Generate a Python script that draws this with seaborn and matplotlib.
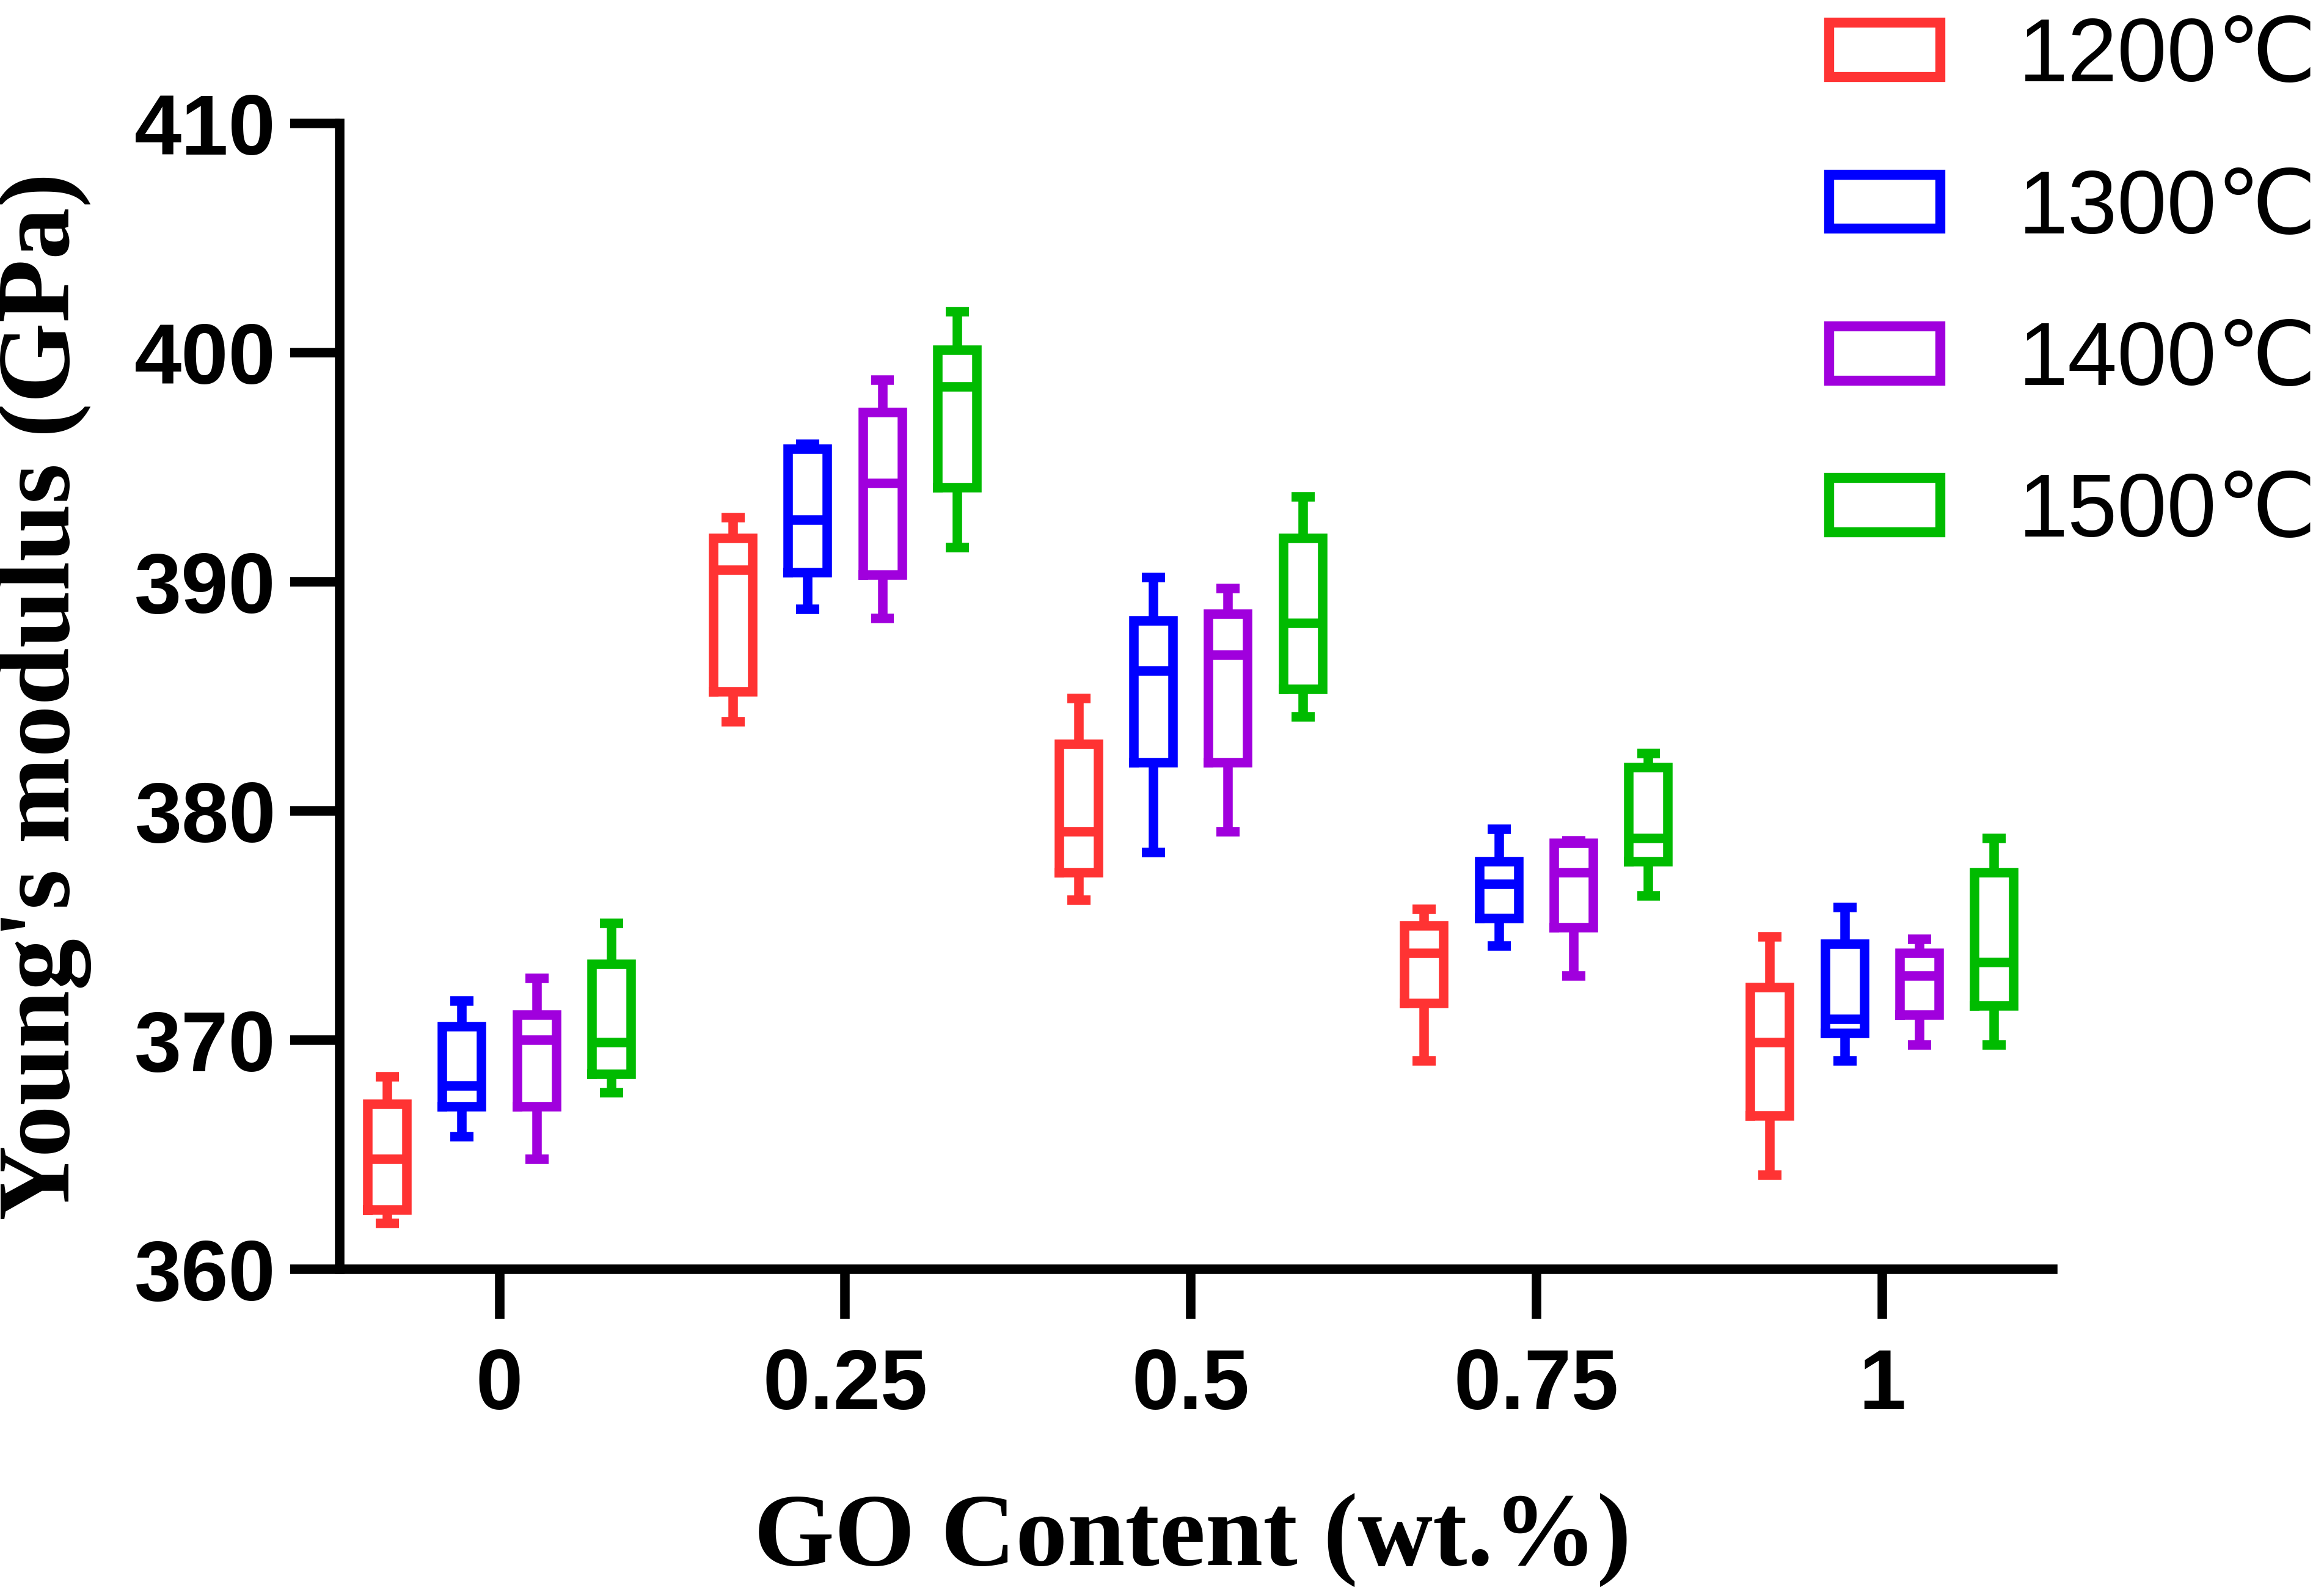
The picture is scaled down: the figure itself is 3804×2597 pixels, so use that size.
import numpy as np
import pandas as pd
import matplotlib
matplotlib.use("Agg")
import matplotlib.pyplot as plt
from matplotlib.patches import Patch
import seaborn as sns

# ---- data: five-number summaries [min, Q1, median, Q3, max] per GO content ----
go_levels = ["0", "0.25", "0.5", "0.75", "1"]
temps = ["1200℃", "1300℃", "1400℃", "1500℃"]
colors = ["#FF3333", "#0000FF", "#A000DD", "#00BB00"]

e1200 = [[362.0, 362.6, 364.8, 367.2, 368.4],
         [383.9, 385.2, 390.5, 391.9, 392.8],
         [376.1, 377.3, 379.1, 382.9, 384.9],
         [369.1, 371.6, 373.8, 375.0, 375.7],
         [364.1, 366.7, 369.9, 372.3, 374.5]]
e1300 = [[365.8, 367.1, 368.0, 370.6, 371.7],
         [388.8, 390.4, 392.7, 395.8, 396.0],
         [378.2, 382.1, 386.1, 388.3, 390.2],
         [374.1, 375.3, 376.8, 377.8, 379.2],
         [369.1, 370.3, 370.9, 374.2, 375.8]]
e1400 = [[364.8, 367.1, 370.0, 371.1, 372.7],
         [388.4, 390.3, 394.3, 397.4, 398.8],
         [379.1, 382.1, 386.8, 388.6, 389.7],
         [372.8, 374.9, 377.3, 378.6, 378.7],
         [369.8, 371.1, 372.8, 373.8, 374.4]]
e1500 = [[367.7, 368.5, 369.9, 373.3, 375.1],
         [391.5, 394.1, 398.5, 400.1, 401.8],
         [384.1, 385.3, 388.2, 391.9, 393.7],
         [376.3, 377.8, 378.8, 381.9, 382.5],
         [369.8, 371.5, 373.4, 377.3, 378.8]]
yticks = [360, 370, 380, 390, 400, 410]

rows = []
for t, boxes in zip(temps, [e1200, e1300, e1400, e1500]):
    for g, five in zip(go_levels, boxes):
        for v in five:
            rows.append((g, t, v))
df = pd.DataFrame(rows, columns=["GO", "T", "E"])

sns.set_style("ticks")
plt.rcParams["font.family"] = ["Liberation Sans", "DejaVu Sans"]
plt.rcParams["lines.solid_joinstyle"] = "miter"
plt.rcParams["lines.solid_capstyle"] = "projecting"
for k in ["text.color", "axes.labelcolor", "xtick.color", "ytick.color", "axes.edgecolor"]:
    plt.rcParams[k] = "black"

LW = 11.2
fig = plt.figure(figsize=(38.04, 25.97), dpi=100)
ax = fig.add_axes([0.1462, 0.2002, 0.737, 0.722])

sns.boxplot(data=df, x="GO", y="E", hue="T", order=go_levels, hue_order=temps,
            palette=colors, fill=False, whis=(0, 100), linewidth=LW,
            width=0.865, gap=0.477, dodge=True, legend=False, ax=ax)

# narrow the whisker caps
for ln in ax.lines:
    xd = np.asarray(ln.get_xdata(), dtype=float)
    yd = np.asarray(ln.get_ydata(), dtype=float)
    if len(xd) == 2 and yd[0] == yd[1]:
        L = abs(xd[1] - xd[0])
        c = xd.mean()
        if L < 0.09:
            ln.set_xdata([c - 0.0335, c + 0.0335])
        ln.set_solid_capstyle("butt")

ax.set_xlim(-0.462, 4.493)
ax.set_ylim(360, 410)
ax.set_yticks(yticks)
ax.set_yticklabels([str(v) for v in yticks])
sns.despine(ax=ax)
for s in ["left", "bottom"]:
    ax.spines[s].set_linewidth(LW)
    ax.spines[s].set_color("black")

ax.tick_params(axis="both", length=58, width=LW, color="black", labelcolor="black",
               direction="out")
ax.tick_params(axis="y", pad=17)
ax.tick_params(axis="x", pad=34)
for lab in ax.get_xticklabels() + ax.get_yticklabels():
    lab.set_fontsize(100)
    lab.set_fontweight("bold")
    lab.set_fontfamily(["Liberation Sans", "DejaVu Sans"])

ax.set_xlabel("GO Content (wt.%)", fontsize=122, fontweight="bold", color="black",
              fontfamily=["Liberation Serif", "DejaVu Serif"])
ax.set_ylabel("Young's modulus (GPa)", fontsize=122, fontweight="bold", color="black",
              fontfamily=["Liberation Serif", "DejaVu Serif"])
ax.xaxis.set_label_coords(0.498, -0.195)
ax.yaxis.set_label_coords(-0.145, 0.5)

handles = [Patch(facecolor="white", edgecolor=c, linewidth=LW * 1.05) for c in colors]
leg = fig.legend(handles, temps, loc="upper left", bbox_to_anchor=(0.7870, 0.9895),
                 frameon=False, fontsize=105, handlelength=1.25, handleheight=0.56,
                 handletextpad=0.88, labelspacing=0.77, borderpad=0, borderaxespad=0)
for txt in leg.get_texts():
    txt.set_fontfamily(["Liberation Sans", "DejaVu Sans"])
    txt.set_color("black")

fig.savefig("out.png", dpi=100, facecolor="white")
